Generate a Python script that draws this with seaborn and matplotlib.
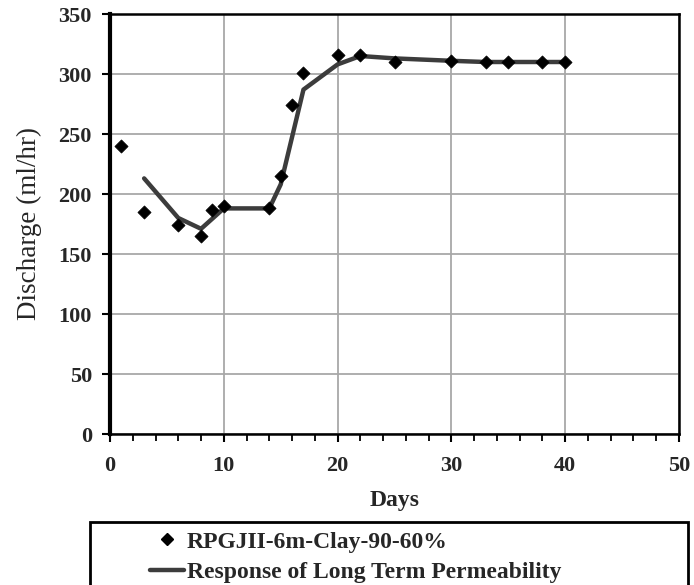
import matplotlib
matplotlib.use("Agg")
import matplotlib.pyplot as plt
import seaborn as sns
import pandas as pd
from matplotlib.lines import Line2D
from matplotlib.patches import Rectangle
from matplotlib.ticker import MultipleLocator

# Data
obs_days = [1, 3, 6, 8, 9, 10, 14, 15, 16, 17, 20, 22, 25, 30, 33, 35, 38, 40]
obs_discharge = [240, 185, 174, 165, 187, 190, 188, 215, 274, 301, 316, 316, 310, 311, 310, 310, 310, 310]
fit_days = [3, 6, 8, 10, 14, 15, 17, 20, 22, 25, 30, 33, 35, 38, 40]
fit_discharge = [213, 180, 171, 188, 188, 208, 287, 308, 315, 313, 311, 310, 310, 310, 310]
obs_label = "RPGJII-6m-Clay-90-60%"
fit_label = "Response of Long Term Permeability"
x_ticks = [0, 10, 20, 30, 40, 50]
y_ticks = [0, 50, 100, 150, 200, 250, 300, 350]

sns.set_theme(style="white")
plt.rcParams['font.family'] = ['Liberation Serif', 'DejaVu Serif']

df_obs = pd.DataFrame({"Days": obs_days, "Discharge": obs_discharge})
df_fit = pd.DataFrame({"Days": fit_days, "Discharge": fit_discharge})

fig = plt.figure(figsize=(6.94, 5.85), dpi=100)
ax = fig.add_axes([110/694, 1-434/585, (679-110)/694, (434-14)/585])

sns.lineplot(data=df_fit, x="Days", y="Discharge", ax=ax, color="#3c3c3c",
             linewidth=3.2, sort=False, zorder=3)
sns.scatterplot(data=df_obs, x="Days", y="Discharge", ax=ax, marker="D",
                color="black", s=45, edgecolor="black", linewidth=0.5, zorder=4)

ax.set_xlim(0, 50)
ax.set_ylim(0, 350)
ax.set_xticks(x_ticks)
ax.set_yticks(y_ticks)
ax.xaxis.set_minor_locator(MultipleLocator(2))
ax.grid(True, which="major", color="#a8a8a8", linewidth=1.3)
ax.set_axisbelow(True)

for s in ["top", "right", "bottom"]:
    ax.spines[s].set_color("black")
    ax.spines[s].set_linewidth(1.8)
ax.spines["left"].set_color("black")
ax.spines["left"].set_linewidth(3.0)

ax.tick_params(axis="both", which="major", direction="out", length=6, width=1.5,
               color="black", labelsize=16, bottom=True, left=True)
ax.tick_params(axis="x", which="major", pad=10)
ax.tick_params(axis="y", which="major", pad=7)
ax.tick_params(axis="x", which="minor", direction="out", length=5, width=1.3,
               color="black", bottom=True)
for lbl in ax.get_xticklabels() + ax.get_yticklabels():
    lbl.set_fontweight("bold")

ax.set_xlabel("Days", fontsize=17, fontweight="bold", labelpad=10)
ax.set_ylabel("Discharge (ml/hr)", fontsize=19.5, labelpad=12)

# Legend box below the plot
fig.patches.append(Rectangle((90/694, -0.05), 598/694, 0.05 + (585-522)/585,
                             transform=fig.transFigure, fill=False,
                             edgecolor="black", linewidth=2.0))
handles = [
    Line2D([], [], marker="D", color="black", linestyle="none", markersize=6),
    Line2D([], [], color="#3c3c3c", linewidth=3.2),
]
fig.legend(handles, [obs_label, fit_label], loc="upper left",
           bbox_to_anchor=(150/694, 1-531/585), frameon=False,
           prop={"family": "Liberation Serif", "weight": "bold", "size": 17},
           handlelength=1.45, handletextpad=0.12, labelspacing=0.38, borderpad=0.0,
           borderaxespad=0.0)

fig.savefig("out.png", dpi=100)
